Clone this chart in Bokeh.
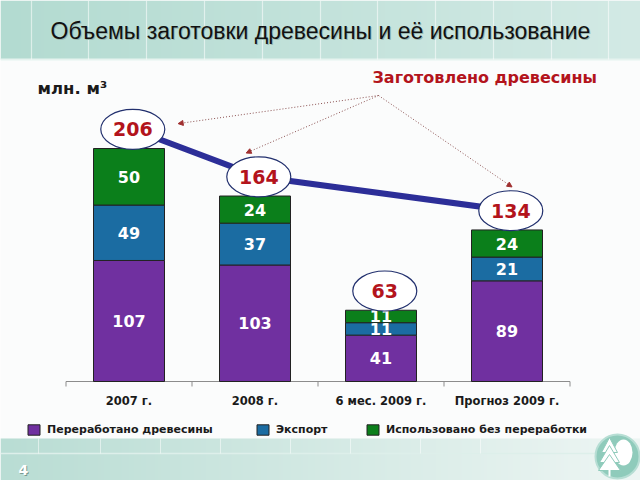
import numpy as np
from bokeh.plotting import figure
from bokeh.models import Range1d, Legend, LegendItem, Arrow, NormalHead, ColumnDataSource
from bokeh.core.properties import value
from bokeh.embed import file_html
from bokeh.resources import INLINE

# ---------------- data ----------------
categories = ["2007 г.", "2008 г.", "6 мес. 2009 г.", "Прогноз 2009 г."]
processed = [107, 103, 41, 89]          # Переработано древесины
export = [49, 37, 11, 21]               # Экспорт
unprocessed = [50, 24, 11, 24]          # Использовано без переработки
harvested = [206, 164, 63, 134]         # Заготовлено древесины
series_names = ["Переработано древесины", "Экспорт", "Использовано без переработки"]
title_text = "Объемы заготовки древесины и её использование"
unit_text = "млн. м³"
harvest_label = "Заготовлено древесины"
page_number = "4"

# ---------------- geometry helpers (pixel -> data) ----------------
W, H = 640, 480
X0, DX = 128.5, 126.0      # pixel of first category centre, pixels per category
Y0, DY = 381.0, 1.131      # pixel of zero line, pixels per unit


def X(px):
    return (px - X0) / DX


def Y(py):
    return (Y0 - py) / DY


FONT = value("DejaVu Sans")
colors = ["#7030A0", "#1B6CA2", "#0B7F1B"]

p = figure(width=W, height=H, x_range=Range1d(X(0), X(W)), y_range=Range1d(Y(H), Y(0)),
           output_backend="svg", toolbar_location=None, min_border=0,
           x_axis_location=None, y_axis_location=None, outline_line_color=None,
           background_fill_color="#FBFCFC", border_fill_color="#FBFCFC")
p.xgrid.visible = False
p.ygrid.visible = False
for g in p.grid:
    g.visible = False


# ---------------- decorative bands ----------------
def hex2rgb(h):
    return np.array([int(h[i:i + 2], 16) for i in (1, 3, 5)], dtype=float)


def band(py_top, py_bot, c_left, c_right):
    h = int(py_bot - py_top)
    img = np.zeros((h, W, 4), dtype=np.uint8)
    t = np.linspace(0, 1, W)[None, :, None]
    cl, cr = hex2rgb(c_left), hex2rgb(c_right)
    rgb = cl[None, None, :] * (1 - t) + cr[None, None, :] * t
    img[:, :, :3] = np.repeat(rgb, h, axis=0).astype(np.uint8)
    img[:, :, 3] = 255
    flat = img.view(dtype=np.uint32).reshape((h, W))
    p.image_rgba(image=[flat[::-1]], x=X(0), y=Y(py_bot), dw=W / DX, dh=h / DY)


band(0, 59, "#B3DBD1", "#D3EAE5")
p.segment(x0=[X(0)], y0=[Y(59)], x1=[X(W)], y1=[Y(59)], line_color="#E6F3EF", line_width=2)
vx = [31, 88, 146, 204, 262, 320, 377, 435, 493, 551, 608]
p.segment(x0=[X(v) for v in vx], y0=[Y(0)] * len(vx), x1=[X(v) for v in vx], y1=[Y(59)] * len(vx),
          line_color="white", line_alpha=0.55, line_width=1.2)

band(438, 480, "#B9DDD4", "#EEF6F4")
p.segment(x0=[X(0)], y0=[Y(453)], x1=[X(W)], y1=[Y(453)], line_color="#DDEFEA", line_width=1.5)
vb = [38, 100, 160, 220, 290, 350, 420, 480]
p.segment(x0=[X(v) for v in vb], y0=[Y(438)] * len(vb), x1=[X(v) for v in vb], y1=[Y(453)] * len(vb),
          line_color="white", line_alpha=0.5, line_width=1)

# title with light shadow
p.text(x=[X(51)], y=[Y(31)], text=[title_text], text_font=value("Liberation Sans"),
       text_font_size="23px", text_color="#9AB8B0", text_baseline="middle")
p.text(x=[X(50)], y=[Y(30)], text=[title_text], text_font=value("Liberation Sans"),
       text_font_size="23px", text_color="#111111", text_baseline="middle")

# page number
p.text(x=[X(18)], y=[Y(469)], text=[page_number], text_font=FONT, text_font_style="bold",
       text_font_size="14px", text_color="#7A9A92", text_baseline="middle", x_offset=1, y_offset=1)
p.text(x=[X(18)], y=[Y(469)], text=[page_number], text_font=FONT, text_font_style="bold",
       text_font_size="14px", text_color="white", text_baseline="middle")

# logo
p.circle(x=[X(617)], y=[Y(456)], radius=22 / DX, fill_color="#8FCBBB", line_color="#B7DED4", line_width=2)
p.ellipse(x=[X(623)], y=[Y(452)], width=18 / DX, height=26 / DY, fill_color="white", line_color=None)
for top, bot, half in [(437, 452, 8), (445, 462, 10), (454, 470, 11)]:
    p.patch(x=[X(609 - half), X(609), X(609 + half)], y=[Y(bot), Y(top), Y(bot)],
            fill_color="white", line_color="#8FCBBB", line_width=1)
p.segment(x0=[X(609)], y0=[Y(468)], x1=[X(609)], y1=[Y(476)], line_color="white", line_width=2)

# ---------------- axis ----------------
idx = list(range(len(categories)))
p.segment(x0=[-0.5], y0=[0], x1=[len(categories) - 0.5], y1=[0], line_color="#8C8C8C", line_width=1.2)
bounds = [i - 0.5 for i in range(len(categories) + 1)]
p.segment(x0=bounds, y0=[0] * len(bounds), x1=bounds, y1=[-5 / DY] * len(bounds),
          line_color="#8C8C8C", line_width=1)
p.text(x=idx, y=[-19 / DY] * len(idx), text=categories, text_font=FONT, text_font_style="bold",
       text_font_size="11.5px", text_color="#1A1A1A", text_align="center", text_baseline="middle")

# ---------------- stacked bars ----------------
src = ColumnDataSource(dict(x=idx, p1=processed, p2=export, p3=unprocessed))
rs = p.vbar_stack(["p1", "p2", "p3"], x="x", width=71 / DX, source=src, color=colors)
for r in rs:
    r.glyph.line_color = "#222222"
    r.glyph.line_width = 1

lx, ly, lt = [], [], []
for i in idx:
    b = 0
    for v in (processed[i], export[i], unprocessed[i]):
        lx.append(i)
        ly.append(b + v / 2)
        lt.append(str(v))
        b += v
p.text(x=lx, y=ly, text=lt, text_font=FONT, text_font_style="bold", text_font_size="16px",
       text_color="white", text_align="center", text_baseline="middle")

# ---------------- harvested line + ellipses ----------------
off = 17
line_idx = [0, 1, 3]
p.line(x=[i + 0.03 for i in line_idx], y=[harvested[i] + off for i in line_idx],
       line_color="#2C2E98", line_width=6)
p.ellipse(x=[i + 0.03 for i in idx], y=[h + off for h in harvested], width=64 / DX, height=40 / DY,
          fill_color="white", line_color="#22306E", line_width=1.2)
p.text(x=[i + 0.03 for i in idx], y=[h + off for h in harvested], text=[str(h) for h in harvested],
       text_font=FONT, text_font_style="bold", text_font_size="19px", text_color="#B3141C",
       text_align="center", text_baseline="middle")

# unit + annotation label
p.text(x=[X(37)], y=[Y(88)], text=[unit_text], text_font=FONT, text_font_style="bold",
       text_font_size="16.5px", text_color="#1A1A1A", text_baseline="middle")
p.text(x=[X(372)], y=[Y(77)], text=[harvest_label], text_font=FONT, text_font_style="bold",
       text_font_size="16px", text_color="#B3141C", text_baseline="middle")

# dotted arrows from the label to the harvested values
src_x, src_y = X(378), Y(95)
targets = [(0, 0.39, 22), (1, -0.07, 38), (3, 0.04, 38)]
for i, dx_, dy_ in targets:
    p.add_layout(Arrow(end=NormalHead(size=5, fill_color="#A03030", line_color="#A03030"),
                       x_start=src_x, y_start=src_y, x_end=i + dx_, y_end=harvested[i] + dy_,
                       line_color="#8A5050", line_width=1, line_dash="1 2"))

# ---------------- legends ----------------
leg_pos = [(26, 44), (255, 44), (365, 44)]
for r, name, pos in zip(rs, series_names, leg_pos):
    lg = Legend(items=[LegendItem(label=name, renderers=[r])], location=pos,
                orientation="horizontal", padding=0, margin=0, border_line_color=None,
                background_fill_alpha=0, glyph_width=15, glyph_height=13, label_height=13,
                label_standoff=6, label_text_font="DejaVu Sans", label_text_font_style="bold",
                label_text_font_size="11px", label_text_color="#1A1A1A")
    p.add_layout(lg)

open("out.html", "w").write(file_html(p, INLINE))
